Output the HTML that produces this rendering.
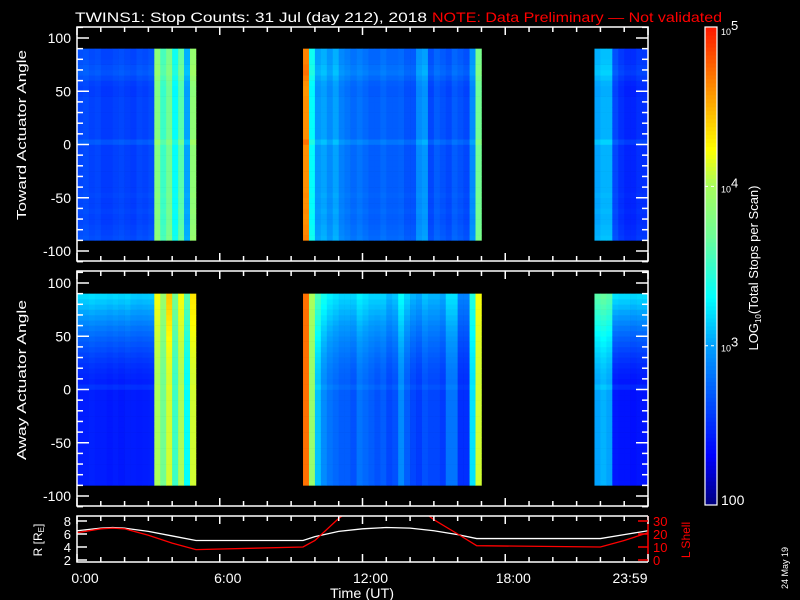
<!DOCTYPE html>
<html><head><meta charset="utf-8"><style>
html,body{margin:0;padding:0;background:#000;}
svg{display:block;font-family:"Liberation Sans",sans-serif;}
</style></head><body>
<svg id="c" width="800" height="600" viewBox="0 0 800 600">
<rect width="800" height="600" fill="#000"/>
<text x="75" y="22" fill="#fff" font-size="14" textLength="352" lengthAdjust="spacingAndGlyphs">TWINS1: Stop Counts: 31 Jul (day 212), 2018</text>
<text x="432" y="22" fill="#f00" font-size="14" textLength="290" lengthAdjust="spacingAndGlyphs">NOTE: Data Preliminary — Not validated</text>
<g id="top"></g>
<g id="bot"></g>
<g id="axes"></g>
<g id="cbar"></g>
<g id="orbit"></g>
<text transform="translate(26,135) rotate(-90)" text-anchor="middle" fill="#fff" font-size="13" textLength="170" lengthAdjust="spacingAndGlyphs">Toward Actuator Angle</text>
<text transform="translate(26,380) rotate(-90)" text-anchor="middle" fill="#fff" font-size="13" textLength="160" lengthAdjust="spacingAndGlyphs">Away Actuator Angle</text>
<text transform="translate(758,268) rotate(-90)" text-anchor="middle" fill="#fff" font-size="13">LOG<tspan font-size="8" dy="3">10</tspan><tspan dy="-3">(Total Stops per Scan)</tspan></text>
<text transform="translate(788,568) rotate(-90)" text-anchor="middle" fill="#fff" font-size="9">24 May 19</text>
<text x="362" y="598" text-anchor="middle" fill="#fff" font-size="14" textLength="64" lengthAdjust="spacingAndGlyphs">Time (UT)</text>
<text transform="translate(42,540) rotate(-90)" text-anchor="middle" fill="#fff" font-size="12">R [R<tspan font-size="8" dy="2">E</tspan><tspan dy="-2">]</tspan></text>
<text transform="translate(690,540) rotate(-90)" text-anchor="middle" fill="#f00" font-size="12">L Shell</text>
</svg>
<script>
// ---- heatmap data (0.25 h bins, log10 counts) ----
const topBase=[2.6,2.62,2.58,2.6,2.55,2.55,2.58,2.6,2.57,2.55,2.6,2.58,2.62,3.8,3.5,3.7,3.3,3.6,3.0,3.85,
null,null,null,null,null,null,null,null,null,null,null,null,null,null,null,null,null,null,
4.6,3.3,2.95,3.0,2.9,3.0,2.85,2.8,2.75,2.8,2.75,2.7,2.7,2.75,2.7,2.7,2.72,2.65,2.65,2.9,2.95,2.6,2.7,2.65,2.6,2.7,2.65,2.6,2.9,3.7,
null,null,null,null,null,null,null,null,null,null,null,null,null,null,null,null,null,null,null,
3.0,3.05,3.05,2.6,2.5,2.45,2.45,2.5,2.5];
const botBase=[2.42,2.42,2.44,2.42,2.42,2.4,2.42,2.4,2.42,2.42,2.41,2.42,2.43,4.0,3.7,4.1,3.5,4.0,3.3,4.1,
null,null,null,null,null,null,null,null,null,null,null,null,null,null,null,null,null,null,
4.7,3.9,3.1,2.9,2.8,2.75,2.7,2.7,2.65,2.8,2.75,2.7,2.65,2.7,2.6,2.65,2.9,2.7,2.6,2.55,2.65,2.6,2.6,2.55,2.8,2.8,2.5,2.5,3.2,4.1,
null,null,null,null,null,null,null,null,null,null,null,null,null,null,null,null,null,null,null,
3.0,3.05,3.0,2.4,2.38,2.38,2.36,2.38,2.38];
const botTilt=[0.75,0.75,0.75,0.75,0.75,0.75,0.75,0.75,0.75,0.7,0.7,0.7,0.7,0.2,0.2,0.3,0.2,0.2,0.3,0.2,
0,0,0,0,0,0,0,0,0,0,0,0,0,0,0,0,0,0,
0,0.1,0.45,0.45,0.45,0.45,0.45,0.45,0.5,0.45,0.45,0.45,0.5,0.45,0.45,0.45,0.4,0.45,0.45,0.45,0.45,0.45,0.45,0.45,0.4,0.4,0.35,0.35,0.2,0.1,
0,0,0,0,0,0,0,0,0,0,0,0,0,0,0,0,0,0,0,
0.6,0.6,0.6,0.8,0.8,0.8,0.8,0.8,0.8];
// angle profiles, 5 deg bins from -90 to +90
const topProf=[0.05,0.03,0.02,0,0,0.02,0,0,0.02,0,0,0,0,0,0,0,0,0,0.1,0,0,0,0,0,0,0,0,-0.02,-0.02,0,0.05,0.1,0.08,0.05,0.04,0.04];
const botProf=[0,0,0,0,0,0,0,0,0,0,0,0,0,0,0,0,0,0,0.12,0.02,0.05,0.08,0.12,0.17,0.22,0.28,0.34,0.4,0.47,0.54,0.62,0.7,0.78,0.86,0.93,1.0];
// ---- orbit data ----
const orbT=[0,1,1.5,2,3,4,5,9.5,10,11,12,13,14,15,16,16.8,22,23,24];
const orbR=[6.5,6.9,7.0,6.9,6.4,5.7,5.0,5.0,5.6,6.4,6.8,7.0,6.9,6.5,5.9,5.3,5.3,5.9,6.5];
const orbL=[21,24,24.5,24,19,13,8,10,15,32,45,50,45,31,20,11,10,15,21];
const cbTicks=[5,4,3,2];

const NS="http://www.w3.org/2000/svg";
function el(p,tag,at){const e=document.createElementNS(NS,tag);for(const k in at)e.setAttribute(k,at[k]);p.appendChild(e);return e;}
const X0=77,X1=648;
const xT=h=>X0+(X1-X0)*h/24;
const yTop=a=>144.5-a*1.065, yBot=a=>389.5-a*1.065;
const stops=[[0,0,0,130],[0.1,0,0,255],[0.33,0,160,255],[0.43,0,255,255],[0.56,110,255,150],[0.667,170,255,90],[0.74,255,255,0],[0.87,255,140,0],[1,255,20,0]];
function col(v){let f=Math.max(0,Math.min(1,(v-2)/3));for(let i=1;i<stops.length;i++){if(f<=stops[i][0]){const a=stops[i-1],b=stops[i],t=(f-a[0])/(b[0]-a[0]);return `rgb(${Math.round(a[1]+t*(b[1]-a[1]))},${Math.round(a[2]+t*(b[2]-a[2]))},${Math.round(a[3]+t*(b[3]-a[3]))})`;}}return "rgb(255,20,0)";}
const gT=document.getElementById('top'),gB=document.getElementById('bot');
const nb=topBase.length,dh=24/nb;
for(let t=0;t<nb;t++){
  const x=xT(t*dh),w=xT((t+1)*dh)-x+0.3;
  for(let a=0;a<topProf.length;a++){
    const a0=-90+a*5;
    if(topBase[t]!==null){
      const r=el(gT,'rect',{x:x,y:yTop(a0+5),width:w,height:yTop(a0)-yTop(a0+5)+0.3,fill:col(topBase[t]+topProf[a])});
      
      
    }
    if(botBase[t]!==null){
      const r=el(gB,'rect',{x:x,y:yBot(a0+5),width:w,height:yBot(a0)-yBot(a0+5)+0.3,fill:col(botBase[t]+botProf[a]*botTilt[t])});
      
      
    }
  }
}
const gA=document.getElementById('axes');
function panel(yf,top,bot){
  el(gA,'rect',{x:X0,y:top,width:X1-X0,height:bot-top,fill:'none',stroke:'#fff','stroke-width':1.5});
  for(let h=0;h<=24;h++){const x=xT(h),L=h%6==0?8:5;
    el(gA,'line',{x1:x,x2:x,y1:bot,y2:bot-L,stroke:'#fff','stroke-width':1.5});
    el(gA,'line',{x1:x,x2:x,y1:top,y2:top+L,stroke:'#fff','stroke-width':1.5});}
  for(let a=-110;a<=110;a+=10){const y=yf(a),L=a%50==0?12:6;
    el(gA,'line',{x1:X0,x2:X0+L,y1:y,y2:y,stroke:'#fff','stroke-width':1.5});
    el(gA,'line',{x1:X1,x2:X1-L,y1:y,y2:y,stroke:'#fff','stroke-width':1.5});}
  for(const a of [100,50,0,-50,-100]){const t=el(gA,'text',{x:71,y:yf(a)+5,'text-anchor':'end',fill:'#fff','font-size':14});t.textContent=a;
    
    }
}
panel(yTop,27,261);panel(yBot,271,506);
const gC=document.getElementById('cbar');
const cy=v=>505-(v-2)*159.3;
for(let i=0;i<120;i++){const v=2+3*i/120;const r=el(gC,'rect',{x:705,y:cy(v+3/120),width:12,height:cy(v)-cy(v+3/120)+0.5,fill:col(v)});
  
  }
el(gC,'rect',{x:705,y:27,width:12,height:478,fill:'none',stroke:'#fff','stroke-width':1.2});
for(const v of cbTicks){const y=cy(v);
  if(v==3||v==4)el(gC,'line',{x1:705,x2:717,y1:y,y2:y,stroke:'#fff','stroke-dasharray':'3,3'});
  const t=el(gC,'text',{x:721,y:y+(v==5?8:v==2?0:6),fill:'#fff','font-size':v==2?14:9});
  if(v==2)t.textContent='100';else{t.textContent='10';const s=el(t,'tspan',{dy:-5,'font-size':13});s.textContent=v;}
  
  }
const gO=document.getElementById('orbit');
const OT=516,OB=562;
const yR=r=>560-(r-2)*6.5, yL=l=>560-l*1.3;
const cp=el(gO,'clipPath',{id:'oc'});el(cp,'rect',{x:X0,y:OT,width:X1-X0,height:OB-OT});
const pr=el(gO,'polyline',{points:orbT.map((t,i)=>xT(t)+','+yR(orbR[i])).join(' '),fill:'none',stroke:'#fff','stroke-width':1.3,'clip-path':'url(#oc)'});


const pl=el(gO,'polyline',{points:orbT.map((t,i)=>xT(t)+','+yL(orbL[i])).join(' '),fill:'none',stroke:'#f00','stroke-width':1.3,'clip-path':'url(#oc)'});


el(gO,'polyline',{points:`${X1},${OT} ${X0},${OT} ${X0},${OB} ${X1},${OB}`,fill:'none',stroke:'#fff','stroke-width':1.5});
el(gO,'line',{x1:X1,x2:X1,y1:OT,y2:OB,stroke:'#f00','stroke-width':1.5});
for(let h=0;h<=24;h++){const x=xT(h),L=h%6==0?8:5;
  el(gO,'line',{x1:x,x2:x,y1:OB,y2:OB-L,stroke:'#fff','stroke-width':1.5});
  el(gO,'line',{x1:x,x2:x,y1:OT,y2:OT+L,stroke:'#fff','stroke-width':1.5});}
for(const r of [2,4,6,8]){const y=yR(r);el(gO,'line',{x1:X0,x2:X0+10,y1:y,y2:y,stroke:'#fff','stroke-width':1.5});
  const t=el(gO,'text',{x:71,y:y+5,'text-anchor':'end',fill:'#fff','font-size':13});t.textContent=r;
  
  }
for(const l of [0,10,20,30]){const y=yL(l);el(gO,'line',{x1:X1,x2:X1-10,y1:y,y2:y,stroke:'#f00','stroke-width':1.5});
  const t=el(gO,'text',{x:653,y:y+5,fill:'#f00','font-size':13});t.textContent=l;
  
  }
const xl=[[0,'0:00'],[6,'6:00'],[12,'12:00'],[18,'18:00'],[24,'23:59']];
for(const [h,s] of xl){const t=el(gO,'text',{x:h==24?xT(h)-18:xT(h)+8,y:583,'text-anchor':'middle',fill:'#fff','font-size':14});t.textContent=s;
  
  }
</script>
</body></html>
